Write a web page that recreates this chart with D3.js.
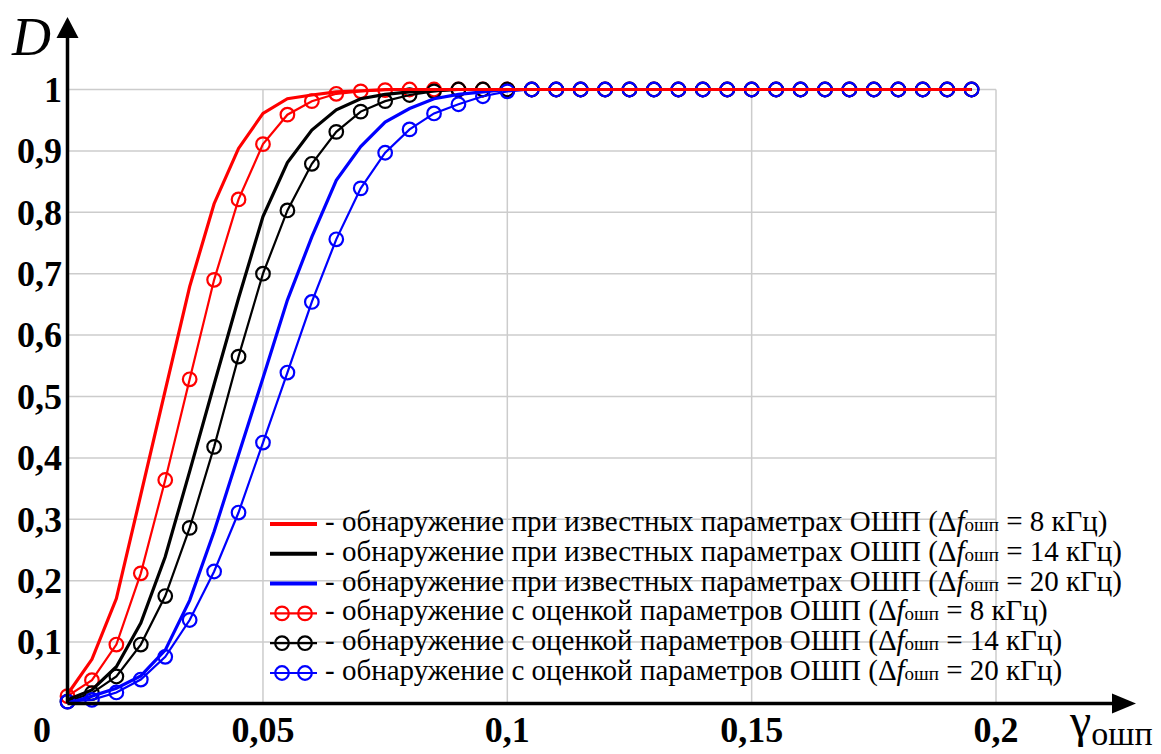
<!DOCTYPE html>
<html>
<head>
<meta charset="utf-8">
<script src="https://cdn.jsdelivr.net/npm/d3@7"></script>
</head>
<body style="margin:0">
<script>
// gamma values (x) for every computed point
const gammaVals = [0.01, 0.015, 0.02, 0.025, 0.03, 0.035, 0.04, 0.045, 0.05, 0.055,
  0.06, 0.065, 0.07, 0.075, 0.08, 0.085, 0.09, 0.095, 0.1, 0.105,
  0.11, 0.115, 0.12, 0.125, 0.13, 0.135, 0.14, 0.145, 0.15, 0.155,
  0.16, 0.165, 0.17, 0.175, 0.18, 0.185, 0.19, 0.195];

// detection with known parameters (solid lines)
const known8 = [0.015, 0.072, 0.171, 0.34, 0.51, 0.679, 0.814, 0.904, 0.961, 0.985,
  0.991, 0.996, 0.998, 1, 1, 1, 1, 1, 1, 1, 1, 1, 1, 1, 1, 1, 1, 1, 1, 1, 1, 1, 1, 1, 1, 1, 1, 1];
const known14 = [0.006, 0.022, 0.06, 0.131, 0.239, 0.378, 0.52, 0.66, 0.793, 0.881,
  0.934, 0.967, 0.985, 0.992, 0.996, 0.998, 1, 1, 1, 1, 1, 1, 1, 1, 1, 1, 1, 1, 1, 1, 1, 1, 1, 1, 1, 1, 1, 1];
const known20 = [0.0, 0.012, 0.025, 0.045, 0.087, 0.168, 0.28, 0.405, 0.53, 0.657,
  0.76, 0.852, 0.907, 0.947, 0.969, 0.985, 0.992, 0.996, 1, 1, 1, 1, 1, 1, 1, 1, 1, 1, 1, 1, 1, 1, 1, 1, 1, 1, 1, 1];

// detection with parameter estimation (lines with circles)
const est8 = [0.012, 0.038, 0.096, 0.212, 0.364, 0.528, 0.69, 0.821, 0.911, 0.959,
  0.981, 0.993, 0.997, 0.999, 1, 1, 1, 1, 1, 1, 1, 1, 1, 1, 1, 1, 1, 1, 1, 1, 1, 1, 1, 1, 1, 1, 1, 1];
const est14 = [0.003, 0.017, 0.044, 0.096, 0.175, 0.286, 0.418, 0.565, 0.70, 0.803,
  0.879, 0.931, 0.964, 0.981, 0.991, 0.997, 1, 1, 1, 1, 1, 1, 1, 1, 1, 1, 1, 1, 1, 1, 1, 1, 1, 1, 1, 1, 1, 1];
const est20 = [0.003, 0.006, 0.018, 0.039, 0.076, 0.136, 0.215, 0.311, 0.425, 0.539,
  0.654, 0.756, 0.839, 0.897, 0.935, 0.961, 0.976, 0.989, 0.997, 1, 1, 1, 1, 1, 1, 1, 1, 1, 1, 1, 1, 1, 1, 1, 1, 1, 1, 1];

const xTicks = [0.05, 0.1, 0.15, 0.2];
const xTickLabels = ["0,05", "0,1", "0,15", "0,2"];
const yTicks = [0.1, 0.2, 0.3, 0.4, 0.5, 0.6, 0.7, 0.8, 0.9, 1];
const yTickLabels = ["0,1", "0,2", "0,3", "0,4", "0,5", "0,6", "0,7", "0,8", "0,9", "1"];

const legendTexts = [
  ["- обнаружение при известных параметрах ОШП (Δ", " = 8 кГц)"],
  ["- обнаружение при известных параметрах ОШП (Δ", " = 14 кГц)"],
  ["- обнаружение при известных параметрах ОШП (Δ", " = 20 кГц)"],
  ["- обнаружение с оценкой параметров ОШП (Δ", " = 8 кГц)"],
  ["- обнаружение с оценкой параметров ОШП (Δ", " = 14 кГц)"],
  ["- обнаружение с оценкой параметров ОШП (Δ", " = 20 кГц)"]
];

const W = 1161, H = 754;
const FONT = "'Liberation Serif', 'Times New Roman', Tinos, serif";

let svg = d3.select("body").append("svg")
  .attr("width", W)
  .attr("height", H);

svg.append("rect").attr("width", W).attr("height", H).attr("fill", "#fff");

// scales
let xScale = d3.scaleLinear().domain([0.01, 0.2]).range([67.5, 996]);
let yScale = d3.scaleLinear().domain([0, 1]).range([703.5, 89.5]);

// grid
let grid = svg.append("g").attr("stroke", "#cccccc").attr("stroke-width", 1.5);
grid.selectAll(".vg").data(xTicks).enter().append("line")
  .attr("x1", d => xScale(d)).attr("x2", d => xScale(d))
  .attr("y1", yScale(0)).attr("y2", yScale(1));
grid.selectAll(".hg").data(yTicks).enter().append("line")
  .attr("x1", xScale(0.01)).attr("x2", xScale(0.2))
  .attr("y1", d => yScale(d)).attr("y2", d => yScale(d));

// series
let markerSeries = [
  {vals: est8, color: "#ff0000"},
  {vals: est14, color: "#000000"},
  {vals: est20, color: "#0000ff"}
];
let lineSeries = [
  {vals: known20, color: "#0000ff"},
  {vals: known14, color: "#000000"},
  {vals: known8, color: "#ff0000"}
];

let line = d3.line()
  .x((d, i) => xScale(gammaVals[i]))
  .y(d => yScale(d));

markerSeries.forEach(s => {
  let g = svg.append("g");
  g.append("path")
    .attr("d", line(s.vals))
    .attr("fill", "none")
    .attr("stroke", s.color)
    .attr("stroke-width", 2.2);
  g.selectAll("circle").data(s.vals).enter().append("circle")
    .attr("cx", (d, i) => xScale(gammaVals[i]))
    .attr("cy", d => yScale(d))
    .attr("r", 6.8)
    .attr("fill", "none")
    .attr("stroke", s.color)
    .attr("stroke-width", 2.2);
});

lineSeries.forEach(s => {
  svg.append("path")
    .attr("d", line(s.vals))
    .attr("fill", "none")
    .attr("stroke", s.color)
    .attr("stroke-width", 3.2);
});

// axes with arrows
let axisG = svg.append("g");
axisG.append("line")
  .attr("x1", xScale(0.01)).attr("x2", 1120)
  .attr("y1", yScale(0)).attr("y2", yScale(0))
  .attr("stroke", "#000").attr("stroke-width", 3.5);
axisG.append("path")
  .attr("d", "M1136," + yScale(0) + " L1112," + (yScale(0) - 10) + " L1112," + (yScale(0) + 10) + " Z")
  .attr("fill", "#000");
axisG.append("line")
  .attr("x1", xScale(0.01)).attr("x2", xScale(0.01))
  .attr("y1", yScale(0)).attr("y2", 34)
  .attr("stroke", "#000").attr("stroke-width", 3.5);
axisG.append("path")
  .attr("d", "M" + xScale(0.01) + ",17 L" + (xScale(0.01) - 11) + ",38 L" + (xScale(0.01) + 11) + ",38 Z")
  .attr("fill", "#000");

// tick labels
svg.selectAll(".xl").data(xTicks).enter().append("text")
  .style("font-family", FONT)
  .attr("x", d => xScale(d))
  .attr("y", 742)
  .attr("text-anchor", "middle")
  .attr("font-size", 36)
  .attr("font-weight", "bold")
  .text((d, i) => xTickLabels[i]);

svg.selectAll(".yl").data(yTicks).enter().append("text")
  .style("font-family", FONT)
  .attr("x", 62)
  .attr("y", d => yScale(d))
  .attr("dy", "0.34em")
  .attr("text-anchor", "end")
  .attr("font-size", 36)
  .attr("font-weight", "bold")
  .text((d, i) => yTickLabels[i]);

svg.append("text")
  .style("font-family", FONT)
  .attr("x", 42).attr("y", 742)
  .attr("text-anchor", "middle")
  .attr("font-size", 36)
  .attr("font-weight", "bold")
  .text("0");

// axis titles
svg.append("text")
  .style("font-family", FONT)
  .attr("x", 12).attr("y", 55)
  .attr("font-size", 54)
  .attr("font-style", "italic")
  .text("D");

let gt = svg.append("text")
  .style("font-family", FONT)
  .attr("x", 1070).attr("y", 737)
  .attr("font-size", 48);
gt.append("tspan").text("γ");
gt.append("tspan").attr("font-size", 34).attr("dy", 8).text("ошп");

// legend
let legend = svg.append("g");
legendTexts.forEach((t, i) => {
  let yy = 524 + i * 29.8;
  let color = ["#ff0000", "#000000", "#0000ff"][i % 3];
  if (i < 3) {
    legend.append("line")
      .attr("x1", 270).attr("x2", 317).attr("y1", yy).attr("y2", yy)
      .attr("stroke", color).attr("stroke-width", 4);
  } else {
    legend.append("line")
      .attr("x1", 270).attr("x2", 317).attr("y1", yy).attr("y2", yy)
      .attr("stroke", color).attr("stroke-width", 2.2);
    [282, 305].forEach(cx => {
      legend.append("circle")
        .attr("cx", cx).attr("cy", yy).attr("r", 6.8)
        .attr("fill", "none").attr("stroke", color).attr("stroke-width", 2.2);
    });
  }
  let tx = legend.append("text")
    .style("font-family", FONT)
    .attr("x", 325).attr("y", yy + 7)
    .attr("font-size", 29);
  tx.append("tspan").text(t[0]);
  tx.append("tspan").attr("font-style", "italic").text("f");
  tx.append("tspan").attr("font-size", 19).text("ошп");
  tx.append("tspan").text(t[1]);
});
</script>
</body>
</html>
